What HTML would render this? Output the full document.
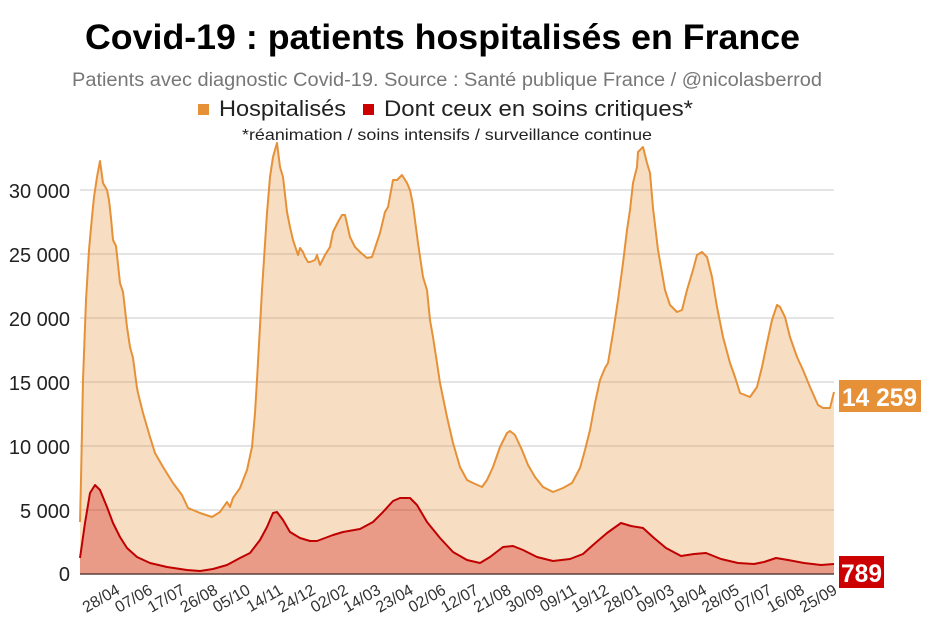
<!DOCTYPE html>
<html>
<head>
<meta charset="utf-8">
<style>
html,body{margin:0;padding:0;background:#fff;}
svg{display:block;font-family:"Liberation Sans",Arial,sans-serif;}
</style>
</head>
<body>
<svg width="931" height="623" viewBox="0 0 931 623" xmlns="http://www.w3.org/2000/svg">
<rect width="931" height="623" fill="#fff"/>
<!-- Title -->
<text x="85" y="49" font-size="35" font-weight="bold" fill="#000" textLength="715" lengthAdjust="spacingAndGlyphs">Covid-19 : patients hospitalisés en France</text>
<text x="72" y="86" font-size="19" fill="#777" textLength="750" lengthAdjust="spacingAndGlyphs">Patients avec diagnostic Covid-19. Source : Santé publique France / @nicolasberrod</text>
<!-- Legend -->
<rect x="198" y="104" width="11" height="11" fill="#e69138"/>
<text x="219" y="116" font-size="22" fill="#222" textLength="127" lengthAdjust="spacingAndGlyphs">Hospitalisés</text>
<rect x="363" y="104" width="11" height="11" fill="#cc0000"/>
<text x="384" y="116" font-size="22" fill="#222" textLength="309" lengthAdjust="spacingAndGlyphs">Dont ceux en soins critiques*</text>
<text x="242" y="140" font-size="16" fill="#222" textLength="410" lengthAdjust="spacingAndGlyphs">*réanimation / soins intensifs / surveillance continue</text>

<!-- Gridlines -->
<g stroke="#c8c8c8" stroke-width="1">
<line x1="80" y1="190" x2="834" y2="190"/>
<line x1="80" y1="254" x2="834" y2="254"/>
<line x1="80" y1="318" x2="834" y2="318"/>
<line x1="80" y1="382" x2="834" y2="382"/>
<line x1="80" y1="446" x2="834" y2="446"/>
<line x1="80" y1="510" x2="834" y2="510"/>
</g>

<!-- Y labels -->
<g font-size="20" fill="#222" text-anchor="end">
<text x="70" y="198">30 000</text>
<text x="70" y="262">25 000</text>
<text x="70" y="326">20 000</text>
<text x="70" y="390">15 000</text>
<text x="70" y="454">10 000</text>
<text x="70" y="518">5 000</text>
<text x="70" y="581">0</text>
</g>

<!-- Hospitalisés area -->
<path fill="#e69138" fill-opacity="0.3" stroke="none" d="M80,574 L80,522 L81,480 L83,380 L86,300 L89,250 L92,217 L94,197 L97,177 L100,161 L103,183 L107,190 L109,200 L111,218 L113,240 L116,246 L120,283 L123,292 L127,327 L130,347 L133,358 L137,388 L138,393 L143,413 L150,437 L155,453 L163,467 L173,483 L182,495 L188,508 L200,513 L212,517 L220,512 L227,502 L230,507 L233,498 L240,488 L247,470 L252,447 L255,413 L257,380 L262,290 L267,213 L270,177 L273,157 L277,143 L280,167 L283,177 L287,212 L290,227 L293,240 L298,255 L300,248 L303,252 L305,257 L308,262 L310,262 L315,260 L317,255 L320,265 L325,255 L330,247 L333,232 L338,222 L342,215 L345,215 L350,237 L355,247 L360,252 L367,258 L372,257 L375,248 L380,233 L385,212 L388,207 L393,180 L397,180 L402,175 L407,183 L410,190 L413,205 L418,243 L423,277 L427,290 L430,320 L433,337 L437,363 L440,383 L447,417 L453,443 L460,467 L467,480 L473,483 L482,487 L487,480 L493,467 L500,447 L507,433 L510,431 L515,435 L522,450 L528,465 L535,477 L543,487 L553,492 L563,488 L572,483 L580,468 L585,450 L590,430 L595,403 L600,380 L605,368 L608,363 L613,333 L618,300 L623,263 L627,230 L630,210 L633,183 L637,167 L638,152 L643,147 L647,163 L650,173 L653,208 L658,250 L665,290 L670,305 L677,312 L682,310 L687,290 L693,270 L697,255 L702,252 L707,257 L712,277 L717,307 L723,337 L730,363 L735,377 L740,393 L750,397 L757,387 L762,367 L767,343 L772,320 L777,305 L780,307 L785,317 L790,337 L797,357 L803,370 L810,387 L818,405 L823,408 L830,408 L834,392 L834,574 Z"/>
<polyline fill="none" stroke="#e69138" stroke-width="2" stroke-linejoin="round" points="80,522 81,480 83,380 86,300 89,250 92,217 94,197 97,177 100,161 103,183 107,190 109,200 111,218 113,240 116,246 120,283 123,292 127,327 130,347 133,358 137,388 138,393 143,413 150,437 155,453 163,467 173,483 182,495 188,508 200,513 212,517 220,512 227,502 230,507 233,498 240,488 247,470 252,447 255,413 257,380 262,290 267,213 270,177 273,157 277,143 280,167 283,177 287,212 290,227 293,240 298,255 300,248 303,252 305,257 308,262 310,262 315,260 317,255 320,265 325,255 330,247 333,232 338,222 342,215 345,215 350,237 355,247 360,252 367,258 372,257 375,248 380,233 385,212 388,207 393,180 397,180 402,175 407,183 410,190 413,205 418,243 423,277 427,290 430,320 433,337 437,363 440,383 447,417 453,443 460,467 467,480 473,483 482,487 487,480 493,467 500,447 507,433 510,431 515,435 522,450 528,465 535,477 543,487 553,492 563,488 572,483 580,468 585,450 590,430 595,403 600,380 605,368 608,363 613,333 618,300 623,263 627,230 630,210 633,183 637,167 638,152 643,147 647,163 650,173 653,208 658,250 665,290 670,305 677,312 682,310 687,290 693,270 697,255 702,252 707,257 712,277 717,307 723,337 730,363 735,377 740,393 750,397 757,387 762,367 767,343 772,320 777,305 780,307 785,317 790,337 797,357 803,370 810,387 818,405 823,408 830,408 834,392"/>

<!-- Critical area -->
<path fill="#cc0000" fill-opacity="0.3" stroke="none" d="M80,574 L80,558 L85,523 L90,493 L95,485 L100,490 L107,507 L113,523 L120,537 L127,548 L137,557 L150,563 L167,567 L187,570 L200,571 L213,569 L227,565 L240,558 L250,553 L260,540 L267,527 L273,513 L277,512 L283,520 L290,532 L300,538 L310,541 L317,541 L333,535 L343,532 L360,529 L373,522 L383,512 L393,501 L400,498 L410,498 L417,505 L427,522 L440,538 L453,552 L467,560 L480,563 L490,557 L503,547 L513,546 L523,550 L537,557 L553,561 L570,559 L583,554 L593,545 L607,533 L621,523 L631,526 L643,528 L654,538 L666,548 L681,556 L694,554 L706,553 L721,559 L738,563 L754,564 L764,562 L776,558 L788,560 L804,563 L821,565 L834,564 L834,574 Z"/>
<polyline fill="none" stroke="#c00000" stroke-width="2" stroke-linejoin="round" points="80,558 85,523 90,493 95,485 100,490 107,507 113,523 120,537 127,548 137,557 150,563 167,567 187,570 200,571 213,569 227,565 240,558 250,553 260,540 267,527 273,513 277,512 283,520 290,532 300,538 310,541 317,541 333,535 343,532 360,529 373,522 383,512 393,501 400,498 410,498 417,505 427,522 440,538 453,552 467,560 480,563 490,557 503,547 513,546 523,550 537,557 553,561 570,559 583,554 593,545 607,533 621,523 631,526 643,528 654,538 666,548 681,556 694,554 706,553 721,559 738,563 754,564 764,562 776,558 788,560 804,563 821,565 834,564"/>

<!-- Baseline -->
<line x1="80" y1="574" x2="834" y2="574" stroke="#5a4038" stroke-width="1.5"/>

<!-- X labels -->
<g font-size="16" fill="#333" text-anchor="end">
<text transform="translate(121,593) rotate(-30)">28/04</text>
<text transform="translate(153.6,593) rotate(-30)">07/06</text>
<text transform="translate(186.2,593) rotate(-30)">17/07</text>
<text transform="translate(218.8,593) rotate(-30)">26/08</text>
<text transform="translate(251.4,593) rotate(-30)">05/10</text>
<text transform="translate(284,593) rotate(-30)">14/11</text>
<text transform="translate(316.6,593) rotate(-30)">24/12</text>
<text transform="translate(349.2,593) rotate(-30)">02/02</text>
<text transform="translate(381.8,593) rotate(-30)">14/03</text>
<text transform="translate(414.4,593) rotate(-30)">23/04</text>
<text transform="translate(447,593) rotate(-30)">02/06</text>
<text transform="translate(479.6,593) rotate(-30)">12/07</text>
<text transform="translate(512.2,593) rotate(-30)">21/08</text>
<text transform="translate(544.8,593) rotate(-30)">30/09</text>
<text transform="translate(577.4,593) rotate(-30)">09/11</text>
<text transform="translate(610,593) rotate(-30)">19/12</text>
<text transform="translate(642.6,593) rotate(-30)">28/01</text>
<text transform="translate(675.2,593) rotate(-30)">09/03</text>
<text transform="translate(707.8,593) rotate(-30)">18/04</text>
<text transform="translate(740.4,593) rotate(-30)">28/05</text>
<text transform="translate(773,593) rotate(-30)">07/07</text>
<text transform="translate(805.6,593) rotate(-30)">16/08</text>
<text transform="translate(838.2,593) rotate(-30)">25/09</text>
</g>

<!-- Value labels -->
<rect x="839" y="380" width="82" height="32" fill="#e69138"/>
<text x="842" y="406" font-size="25" font-weight="bold" fill="#fff" textLength="75" lengthAdjust="spacingAndGlyphs">14 259</text>
<rect x="839" y="556" width="45" height="32" fill="#cc0000"/>
<text x="841" y="582" font-size="25" font-weight="bold" fill="#fff" textLength="41" lengthAdjust="spacingAndGlyphs">789</text>
</svg>
</body>
</html>
